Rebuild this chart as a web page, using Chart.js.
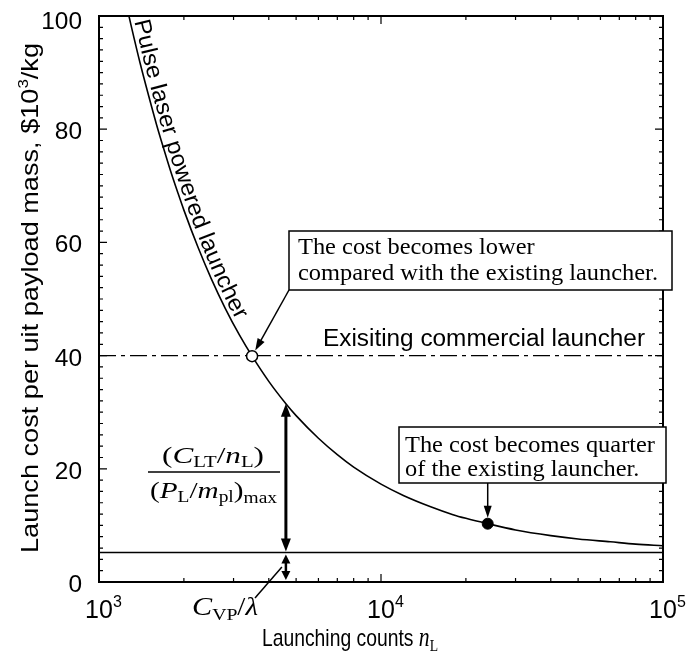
<!DOCTYPE html>
<html>
<head>
<meta charset="utf-8">
<script src="https://cdn.jsdelivr.net/npm/chart.js@4.4.0/dist/chart.umd.min.js"></script>
<style>
  html, body { margin: 0; padding: 0; background: #fff; }
  #wrap { width: 687px; height: 656px; }
</style>
</head>
<body>
<div id="wrap"><canvas id="c" width="687" height="656"></canvas></div>
<script>
// === DATA ===
const nL   = [1240, 1300, 1400, 1500, 1600, 1700, 1800, 1900, 2000, 2250, 2500, 2800, 3150, 3490, 4000, 4600, 5000, 6000, 7000, 8000, 10000, 12000, 15000, 18000, 20000, 23900, 30000, 40000, 50000, 65000, 80000, 100000];
const cost = [102.8, 98.3, 91.6, 85.9, 80.8, 76.4, 72.4, 68.9, 65.7, 59.0, 53.6, 48.4, 43.6, 39.9, 35.45, 31.5, 29.4, 25.4, 22.5, 20.3, 17.3, 15.3, 13.3, 11.9, 11.25, 10.3, 9.2, 8.2, 7.6, 7.1, 6.7, 6.4];
const xRange = [1000, 100000];
const existingCost = 40;     // existing commercial launcher
const vpCost = 5.2;          // C_VP / lambda
const lowerPoint = [3490, 39.9];     // cost becomes lower
const quarterPoint = [23900, 10.3];  // cost becomes quarter
const arrowN = 4600;                 // where the (C_LT/n_L)/(P_L/m_pl) arrow sits
const yTicks = [0, 20, 40, 60, 80, 100];
const xTicks = [1000, 10000, 100000];
const xTickExp = ['3', '4', '5'];

const SANS = '"Liberation Sans", Arial, sans-serif';
const SERIF = '"Liberation Serif", "Times New Roman", serif';

// draw a run of text pieces (for sub/superscripts), optionally squeezed to a width
function rich(c, segs, x, y, o = {}) {
  let tot = 0;
  segs.forEach(s => { c.font = s.f; s.w = c.measureText(s.t).width; tot += s.w; });
  const sx = o.w ? o.w / tot : (o.sx || 1);
  c.save();
  c.translate(x, y);
  if (o.rot) c.rotate(o.rot);
  c.scale(sx, 1);
  let cx = o.align === 'right' ? -tot : o.align === 'center' ? -tot / 2 : 0;
  c.textBaseline = 'alphabetic'; c.textAlign = 'left'; c.fillStyle = '#000';
  segs.forEach(s => { c.font = s.f; c.fillText(s.t, cx, s.dy || 0); cx += s.w; });
  c.restore();
}

function arrow(c, x1, y1, x2, y2, len, wid) {
  const ang = Math.atan2(y2 - y1, x2 - x1);
  c.beginPath();
  c.moveTo(x1, y1);
  c.lineTo(x2 - Math.cos(ang) * len * 0.8, y2 - Math.sin(ang) * len * 0.8);
  c.stroke();
  head(c, x2, y2, ang, len, wid);
}

function head(c, x, y, ang, len, wid) {
  c.save();
  c.translate(x, y); c.rotate(ang);
  c.beginPath();
  c.moveTo(0, 0); c.lineTo(-len, -wid / 2); c.lineTo(-len, wid / 2); c.closePath();
  c.fill();
  c.restore();
}

// text following the curve
function textOnCurve(c, pts, str, startY, length, gap, font) {
  const seg = [];
  let total = 0;
  for (let i = 1; i < pts.length; i++) {
    const d = Math.hypot(pts[i].x - pts[i - 1].x, pts[i].y - pts[i - 1].y);
    seg.push({ a: pts[i - 1], b: pts[i], s: total, d });
    total += d;
  }
  function at(s) {
    for (const g of seg) {
      if (s <= g.s + g.d) {
        const t = (s - g.s) / g.d;
        return { x: g.a.x + (g.b.x - g.a.x) * t, y: g.a.y + (g.b.y - g.a.y) * t,
                 ang: Math.atan2(g.b.y - g.a.y, g.b.x - g.a.x) };
      }
    }
    const g = seg[seg.length - 1];
    return { x: g.b.x, y: g.b.y, ang: Math.atan2(g.b.y - g.a.y, g.b.x - g.a.x) };
  }
  let s0 = 0;
  for (let s = 0; s < total; s += 0.5) { if (at(s).y >= startY) { s0 = s; break; } }
  c.font = font;
  const full = c.measureText(str).width;
  const k = length / full;
  let cur = s0;
  c.fillStyle = '#000'; c.textBaseline = 'alphabetic'; c.textAlign = 'center';
  for (const ch of str) {
    const w = c.measureText(ch).width * k;
    const p = at(cur + w / 2);
    const nx = Math.sin(p.ang), ny = -Math.cos(p.ang);
    c.save();
    c.translate(p.x + nx * gap, p.y + ny * gap);
    c.rotate(p.ang);
    c.scale(k, 1);
    c.fillText(ch, 0, 0);
    c.restore();
    cur += w;
  }
}

const annot = {
  id: 'annot',
  afterDraw(chart) {
    const c = chart.ctx, xs = chart.scales.x, ys = chart.scales.y, a = chart.chartArea;
    c.save();
    c.strokeStyle = '#000'; c.fillStyle = '#000';

    // frame
    c.lineWidth = 2;
    c.strokeRect(a.left, a.top, a.right - a.left, a.bottom - a.top);

    // ticks, inward, all four sides
    c.lineWidth = 1.2;
    c.beginPath();
    for (let d = 1000; d <= 100000; d *= 10) {
      for (let m = 1; m <= 9; m++) {
        const v = d * m;
        if (v > 100000) break;
        const px = xs.getPixelForValue(v);
        const L = m === 1 ? 8 : 4;
        c.moveTo(px, a.bottom); c.lineTo(px, a.bottom - L);
        c.moveTo(px, a.top); c.lineTo(px, a.top + L);
      }
    }
    for (let v = 0; v <= 100; v += 2) {
      const py = ys.getPixelForValue(v);
      const L = v % 20 === 0 ? 8 : 4;
      c.moveTo(a.left, py); c.lineTo(a.left + L, py);
      c.moveTo(a.right, py); c.lineTo(a.right - L, py);
    }
    c.stroke();

    // y tick labels
    yTicks.forEach(v => {
      const py = Math.max(ys.getPixelForValue(v) + 10, 29);
      rich(c, [{ t: String(v), f: '24px ' + SANS }], 82, py, { align: 'right', sx: 1.02 });
    });
    // x tick labels 10^n
    xTicks.forEach((v, i) => {
      const px = xs.getPixelForValue(v);
      c.font = '25px ' + SANS;
      const w10 = c.measureText('10').width;
      rich(c, [{ t: '10', f: '25px ' + SANS }, { t: xTickExp[i], f: '16px ' + SANS, dy: -11 }],
        px - w10 / 2, 618);
    });

    // axis titles
    rich(c, [{ t: 'Launching counts ', f: '24px ' + SANS },
             { t: 'n', f: 'italic 27px ' + SERIF },
             { t: 'L', f: '17px ' + SERIF, dy: 5 }], 262, 646, { w: 176 });
    rich(c, [{ t: 'Launch cost per uit payload mass, $10', f: '24px ' + SANS },
             { t: '3', f: '15px ' + SANS, dy: -10 },
             { t: '/kg', f: '24px ' + SANS }], 38, 553, { rot: -Math.PI / 2, w: 510 });

    // text along the curve
    const pts = chart.getDatasetMeta(0).data.map(p => ({ x: p.x, y: p.y }));
    textOnCurve(c, pts, 'Pulse laser powered launcher', 22, 318, 4, '23px ' + SANS);

    // existing launcher label
    rich(c, [{ t: 'Exisiting commercial launcher', f: '23px ' + SANS }], 323, 346, { w: 322 });

    // box 1
    c.lineWidth = 1.5;
    c.fillStyle = '#fff';
    c.fillRect(289, 231, 383, 59);
    c.strokeRect(289, 231, 383, 59);
    c.fillStyle = '#000';
    c.font = '23px ' + SERIF;
    let sx = 360 / c.measureText('compared with the existing launcher.').width;
    rich(c, [{ t: 'The cost becomes lower', f: '23px ' + SERIF }], 298, 254, { sx });
    rich(c, [{ t: 'compared with the existing launcher.', f: '23px ' + SERIF }], 298, 280, { sx });
    // pointer to the open circle
    const lx = xs.getPixelForValue(lowerPoint[0]), ly = ys.getPixelForValue(lowerPoint[1]);
    {
      const dx = lx - 289, dy = ly - 290, d = Math.hypot(dx, dy);
      c.lineWidth = 1.5;
      arrow(c, 289, 290, lx - dx / d * 6.5, ly - dy / d * 6.5, 12, 8);
    }

    // box 2
    c.fillStyle = '#fff';
    c.fillRect(399, 427, 267, 56);
    c.strokeRect(399, 427, 267, 56);
    c.fillStyle = '#000';
    c.font = '23px ' + SERIF;
    sx = 250 / c.measureText('The cost becomes quarter').width;
    rich(c, [{ t: 'The cost becomes quarter', f: '23px ' + SERIF }], 405, 452, { sx });
    rich(c, [{ t: 'of the existing launcher.', f: '23px ' + SERIF }], 405, 476, { sx });
    const qx = xs.getPixelForValue(quarterPoint[0]), qy = ys.getPixelForValue(quarterPoint[1]);
    arrow(c, qx, 483, qx, qy - 6, 12, 8);

    // double arrow: curve down to C_VP line
    const ax = xs.getPixelForValue(arrowN);
    const yTop = ys.getPixelForValue(cost[nL.indexOf(arrowN)]);
    const yVp = ys.getPixelForValue(vpCost);
    const y0 = ys.getPixelForValue(0);
    c.lineWidth = 3;
    c.beginPath(); c.moveTo(ax, yTop + 10); c.lineTo(ax, yVp - 10); c.stroke();
    head(c, ax, yTop, -Math.PI / 2, 13, 10);
    head(c, ax, yVp - 1, Math.PI / 2, 13, 10);
    // small double arrow: 0 to C_VP
    c.lineWidth = 2.5;
    c.beginPath(); c.moveTo(ax, yVp + 8); c.lineTo(ax, y0 - 8); c.stroke();
    head(c, ax, yVp + 2, -Math.PI / 2, 9, 9);
    head(c, ax, y0 - 2, Math.PI / 2, 9, 9);

    // fraction label
    rich(c, [{ t: '(', f: '24px ' + SERIF }, { t: 'C', f: 'italic 24px ' + SERIF },
             { t: 'LT', f: '16px ' + SERIF, dy: 4 }, { t: '/', f: '24px ' + SERIF },
             { t: 'n', f: 'italic 24px ' + SERIF }, { t: 'L', f: '16px ' + SERIF, dy: 4 },
             { t: ')', f: '24px ' + SERIF }], 162, 463, { w: 102 });
    c.lineWidth = 1.5;
    c.beginPath(); c.moveTo(148, 472); c.lineTo(280, 472); c.stroke();
    rich(c, [{ t: '(', f: '24px ' + SERIF }, { t: 'P', f: 'italic 24px ' + SERIF },
             { t: 'L', f: '16px ' + SERIF, dy: 4 }, { t: '/', f: '24px ' + SERIF },
             { t: 'm', f: 'italic 24px ' + SERIF }, { t: 'pl', f: '16px ' + SERIF, dy: 4 },
             { t: ')', f: '24px ' + SERIF }, { t: 'max', f: '16px ' + SERIF, dy: 5 }], 150, 498, { w: 127 });

    // C_VP / lambda label with pointer
    rich(c, [{ t: 'C', f: 'italic 26px ' + SERIF }, { t: 'VP', f: '17px ' + SERIF, dy: 5 },
             { t: '/', f: '25px ' + SERIF }, { t: 'λ', f: 'italic 25px ' + SERIF }], 192, 615, { w: 66 });
    c.lineWidth = 1.5;
    c.beginPath(); c.moveTo(255, 598); c.lineTo(ax - 4, 567); c.stroke();

    c.restore();
  }
};

const line = (y) => [{ x: xRange[0], y }, { x: xRange[1], y }];

new Chart(document.getElementById('c'), {
  type: 'scatter',
  data: {
    datasets: [{
      data: nL.map((n, i) => ({ x: n, y: cost[i] })),
      showLine: true,
      borderColor: '#000',
      borderWidth: 1.6,
      pointRadius: 0,
      cubicInterpolationMode: 'monotone',
      order: 3
    }, {
      data: line(existingCost),
      showLine: true,
      borderColor: '#000',
      borderWidth: 1.3,
      borderDash: [17, 5, 4, 5],
      pointRadius: 0,
      order: 4
    }, {
      data: line(vpCost),
      showLine: true,
      borderColor: '#000',
      borderWidth: 1.6,
      pointRadius: 0,
      order: 4
    }, {
      data: [{ x: lowerPoint[0], y: lowerPoint[1] }],
      pointRadius: 5.5,
      pointBackgroundColor: '#fff',
      pointBorderColor: '#000',
      pointBorderWidth: 1.5,
      order: 1
    }, {
      data: [{ x: quarterPoint[0], y: quarterPoint[1] }],
      pointRadius: 5.5,
      pointBackgroundColor: '#000',
      pointBorderColor: '#000',
      order: 1
    }]
  },
  options: {
    responsive: false,
    animation: false,
    events: [],
    layout: { padding: { top: 16, right: 24, left: 0, bottom: 0 } },
    plugins: { legend: { display: false }, tooltip: { enabled: false } },
    scales: {
      x: {
        type: 'logarithmic', min: xRange[0], max: xRange[1],
        grid: { display: false }, border: { display: false },
        ticks: { display: false },
        afterFit: s => { s.height = 74; }
      },
      y: {
        min: 0, max: 100,
        grid: { display: false }, border: { display: false },
        ticks: { display: false },
        afterFit: s => { s.width = 99; }
      }
    }
  },
  plugins: [annot]
});
</script>
</body>
</html>
